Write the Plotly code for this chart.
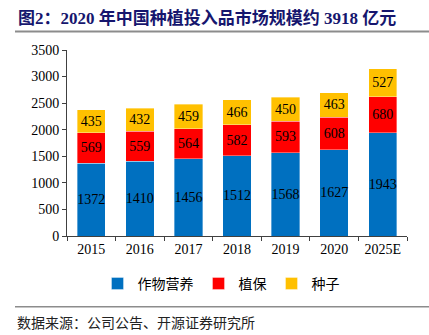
import plotly.graph_objects as go

years = ["2015", "2016", "2017", "2018", "2019", "2020", "2025E"]
nutrition = [1372, 1410, 1456, 1512, 1568, 1627, 1943]
protection = [569, 559, 564, 582, 593, 608, 680]
seeds = [435, 432, 459, 466, 450, 463, 527]

series = [
    ("作物营养", nutrition, "#0070C0"),
    ("植保", protection, "#FF0000"),
    ("种子", seeds, "#FFC000"),
]

SERIF = "Liberation Serif, Times New Roman, Noto Sans CJK SC, serif"

fig = go.Figure()
for name, vals, color in series:
    fig.add_trace(go.Bar(
        x=years, y=vals, name=name,
        marker=dict(color=color, line=dict(color="rgba(255,255,255,0.6)", width=0.6)),
        text=[str(v) for v in vals],
        textposition="inside",
        insidetextanchor="middle",
        constraintext="none",
        textangle=0,
        textfont=dict(family=SERIF, size=14, color="black"),
    ))

W, H = 429, 335
L, R, T, B = 67, 22, 49.5, 99
pw, ph = W - L - R, H - T - B

def px_x(p):
    return (p - L) / pw

def px_y(p):
    return (H - B - p) / ph

fig.update_layout(
    width=W, height=H,
    margin=dict(l=L, r=R, t=T, b=B),
    barmode="stack",
    bargap=0.415,
    plot_bgcolor="white",
    paper_bgcolor="white",
    font=dict(family=SERIF, size=14, color="black"),
    uniformtext=dict(minsize=14, mode="show"),
    xaxis=dict(
        showline=True, linecolor="#404040", linewidth=1,
        ticks="outside", tickson="boundaries", ticklen=4, tickcolor="#404040",
        tickfont=dict(family=SERIF, size=14, color="black"),
        showgrid=False,
    ),
    yaxis=dict(
        range=[0, 3500], dtick=500,
        showline=True, linecolor="#404040", linewidth=1,
        ticks="outside", ticklen=4, tickcolor="#404040",
        tickfont=dict(family=SERIF, size=14, color="black"),
        showgrid=False, zeroline=False,
    ),
    legend=dict(
        orientation="h", x=px_x(221), xanchor="center",
        y=px_y(284), yanchor="middle",
        traceorder="normal",
        font=dict(family="Noto Sans CJK SC", size=14, color="black"),
        itemwidth=30, tracegroupgap=0,
    ),
    showlegend=True,
    shapes=[
        dict(type="line", xref="paper", yref="paper",
             x0=px_x(15), x1=px_x(429), y0=px_y(31), y1=px_y(31),
             line=dict(color="#8c8c8c", width=2)),
        dict(type="line", xref="paper", yref="paper",
             x0=px_x(15), x1=px_x(429), y0=px_y(307), y1=px_y(307),
             line=dict(color="#8c8c8c", width=1.5)),
    ],
    annotations=[
        dict(text="<b>图2：2020 年中国种植投入品市场规模约 3918 亿元</b>",
             xref="paper", yref="paper", x=px_x(16), y=px_y(17),
             xanchor="left", yanchor="middle", showarrow=False,
             font=dict(family=SERIF, size=17, color="#16166e")),
        dict(text="数据来源：公司公告、开源证券研究所",
             xref="paper", yref="paper", x=px_x(15), y=px_y(322),
             xanchor="left", yanchor="middle", showarrow=False,
             font=dict(family="Noto Sans CJK SC", size=14, color="#222222")),
    ],
)

fig.write_html("out.html")
